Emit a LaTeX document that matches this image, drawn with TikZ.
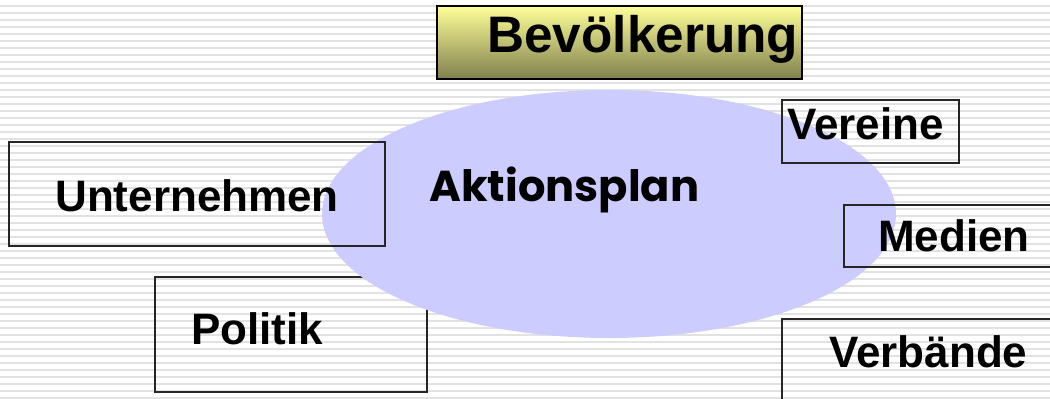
\documentclass[tikz,border=0pt]{standalone}
\usepackage{fontspec}
\setmainfont{Liberation Sans}
\newfontfamily\aktfont{Poppins}
\usetikzlibrary{shapes.geometric,fit}
\definecolor{stripecol}{HTML}{E2E2E2}
\definecolor{plancol}{HTML}{CCCCFF}
\definecolor{toptone}{HTML}{FFFF99}
\definecolor{bottone}{HTML}{7F7F4E}
\newdimen\px
\px=0.75pt
\begin{document}
\begin{tikzpicture}[x=0.75pt,y=-0.75pt,
  stripe/.style={draw=stripecol,line width=1.5pt},
  frame/.style={draw=black!85,line width=1.1pt,inner sep=0pt},
  lbl/.style={font=\fontsize{33}{33}\selectfont\bfseries,inner sep=0pt,anchor=base west},
  bigl/.style={font=\fontsize{38.5}{38.5}\selectfont\bfseries,inner sep=0pt,anchor=base west},
  aktl/.style={font=\aktfont\fontsize{32.4}{32.4}\selectfont\bfseries,inner sep=0pt,anchor=base west}]
\useasboundingbox (0,0) rectangle (1050,399);
\clip (0,0) rectangle (1050,399);
\foreach \k in {0,...,56} \draw[stripe] (0,{6+7*\k}) -- (1050,{6+7*\k});
% box behind the ellipse
\node[frame,fit={(155,277) (427,392)}] (politik) {};
% ellipse
\node[ellipse,fill=plancol,inner sep=0pt,minimum width=574\px,minimum height=248\px] (plan) at (609,214) {};
% boxes over the ellipse
\node[frame,fit={(9,142) (385,246)}] (unter) {};
\node[frame,fit={(782,100) (959,163)}] (vereine) {};
\node[frame,fit={(844,205) (1052,267)}] (medien) {};
\node[frame,fit={(782,319) (1052,402)}] (verb) {};
\node[frame,draw=black,top color=toptone,bottom color=bottone,fit={(437,6) (802,79)}] (bev) {};
% labels
\node[lbl] (tU) at (55,212) {Unternehmen};
\node[lbl] (tP) at (191,344) {Politik};
\node[lbl] (tV) at (787,140) {Vereine};
\node[lbl] (tM) at (878,252) {Medien};
\node[lbl] (tB) at (829,367) {Verbände};
\node[bigl] (tBev) at (487,53) {Bevölkerung};
\node[aktl] (tA) at (429,202) {Aktionsplan};
\end{tikzpicture}
\end{document}
